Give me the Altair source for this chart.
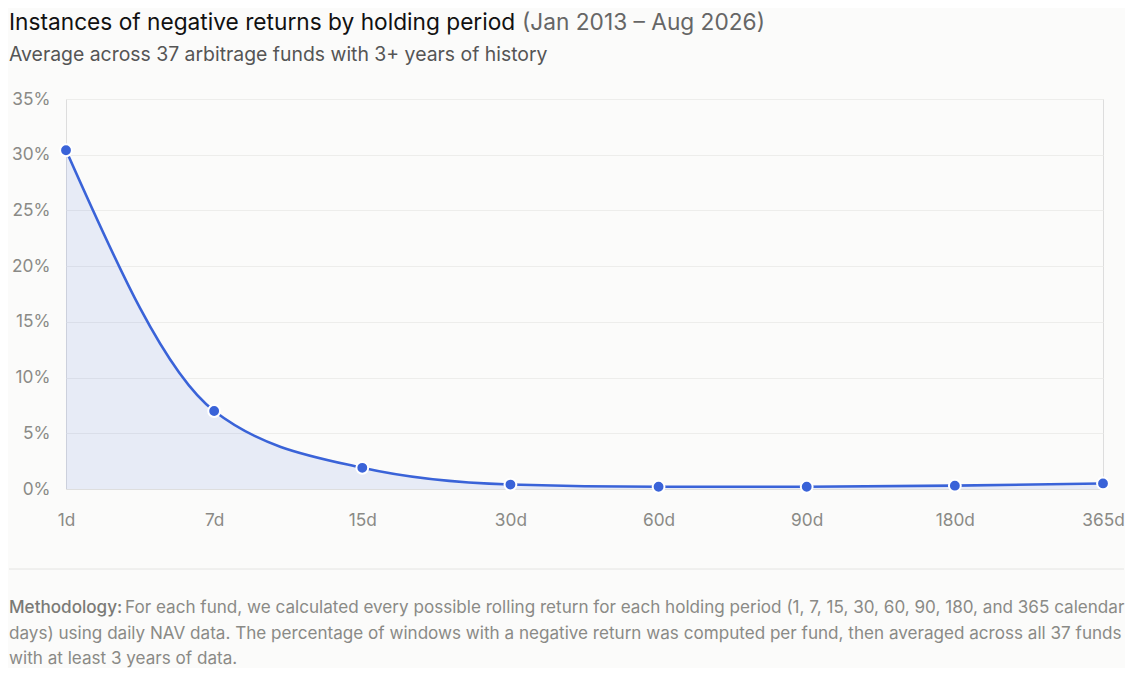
import altair as alt
import pandas as pd

periods = ["1d", "7d", "15d", "30d", "60d", "90d", "180d", "365d"]
neg_pct = [30.4, 7.0, 1.9, 0.4, 0.2, 0.2, 0.3, 0.5]

title_main = "Instances of negative returns by holding period"
title_range = "(Jan 2013 \u2013 Aug 2026)"
subtitle = "Average across 37 arbitrage funds with 3+ years of history"
method_label = "Methodology:"
method_lines = [
    "For each fund, we calculated every possible rolling return for each holding period (1, 7, 15, 30, 60, 90, 180, and 365 calendar",
    "days) using daily NAV data. The percentage of windows with a negative return was computed per fund, then averaged across all 37 funds",
    "with at least 3 years of data.",
]

df = pd.DataFrame({"period": periods, "pct": neg_pct})

FONT = "Inter"
LINE = "#3a63d8"
AXIS_GRAY = "#8a8a86"
BG = "#fbfbfa"

x_enc = alt.X("period:N", sort=periods, title=None,
              scale=alt.Scale(type="point", padding=0),
              axis=alt.Axis(labelAngle=0, labelFontSize=17.3, labelColor=AXIS_GRAY,
                            labelPadding=22, ticks=False, domain=True,
                            domainColor="#dedede", grid=False, labelFont=FONT))
y_enc = alt.Y("pct:Q", title=None,
              scale=alt.Scale(domain=[0, 35], nice=False),
              axis=alt.Axis(values=[0, 5, 10, 15, 20, 25, 30, 35],
                            labelExpr="datum.value + '%'",
                            labelFontSize=17.3, labelColor=AXIS_GRAY,
                            labelPadding=16, ticks=False, domain=False,
                            grid=True, gridColor="#ededeb", labelFont=FONT))

base = alt.Chart(df)
area = base.mark_area(interpolate="monotone", color=LINE, opacity=0.1).encode(x=x_enc, y=y_enc)
line = base.mark_line(interpolate="monotone", color=LINE, strokeWidth=2.6).encode(x=x_enc, y=y_enc)
pts = base.mark_point(filled=True, size=140, color=LINE, stroke="white",
                      strokeWidth=2, opacity=1, strokeOpacity=1).encode(x=x_enc, y=y_enc)


def txt(s, x, y, size, color, weight=400):
    return alt.Chart(pd.DataFrame({"t": [s]})).mark_text(
        align="left", baseline="alphabetic", font=FONT, fontSize=size,
        color=color, fontWeight=weight
    ).encode(text="t:N", x=alt.value(x), y=alt.value(y))


def hrule(x1, x2, y, color):
    return alt.Chart(pd.DataFrame({"a": [0]})).mark_rule(color=color, strokeWidth=1).encode(
        x=alt.value(x1), x2=alt.value(x2), y=alt.value(y))


L = -57
MS = 17.1
layers = [area, line, pts,
          hrule(0, 20, -90, BG),  # headroom above the title
          txt(title_main, L, -69.5, 22.7, "#111111", 400),
          txt(title_range, 456, -69.5, 22.7, "#666666", 400),
          txt(subtitle, L, -38, 19.4, "#555555", 400),
          txt(method_label, L, 514, MS, "#7a7a76", 500),
          txt(method_lines[0], 59, 514, MS, AXIS_GRAY),
          txt(method_lines[1], L, 540, MS, AXIS_GRAY),
          txt(method_lines[2], L, 565, MS, AXIS_GRAY),
          hrule(L, 1058, 470, "#e4e4e2")]

chart = alt.layer(*layers).properties(
    width=1037, height=390, background=BG, padding=0
).configure_view(stroke=None).configure(font=FONT)

chart.save("out.html", embed_options={"renderer": "svg", "actions": False})
